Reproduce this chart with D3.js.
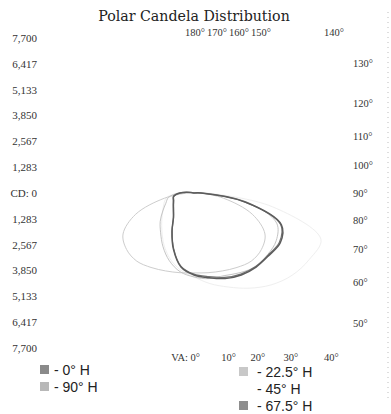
<!DOCTYPE html>
<html>
<head>
<meta charset="utf-8">
<script src="https://cdn.jsdelivr.net/npm/d3@7"></script>
<style>
  html, body { margin: 0; padding: 0; background: #fff; }
  svg { display: block; }
</style>
</head>
<body>
<svg id="chart" width="391" height="414"></svg>
<script>
// ---------------- data ----------------
const chartTitle = "Polar Candela Distribution";
const cdMax = 7700;
const cdTickValues = [7700, 6417, 5133, 3850, 2567, 1283, 0, -1283, -2567, -3850, -5133, -6417, -7700];
const cdTickLabels = ["7,700", "6,417", "5,133", "3,850", "2,567", "1,283", "CD: 0", "1,283", "2,567", "3,850", "5,133", "6,417", "7,700"];

const vaTopLabels = [180, 170, 160, 150, 140];
const vaRightLabels = [130, 120, 110, 100, 90, 80, 70, 60, 50];
const vaBottomLabels = [0, 10, 20, 30, 40];

// vertical angles of the measured candela values
const vaAngles = [0, 10, 20, 30, 40, 50, 60, 70, 80, 90, 100, 110, 120, 130, 140, 150, 160, 170, 180];

// candela per vertical angle: right half-plane and left half-plane
const h0Right   = [4070, 4270, 4520, 4700, 4800, 4840, 4950, 4620, 2580, 350, 0, 0, 0, 0, 0, 0, 0, 0, 0];
const h0Left    = [4070, 3730, 2980, 2190, 1590, 1340, 1190, 1090, 1040, 700, 150, 0, 0, 0, 0, 0, 0, 0, 0];
const h225Right = [4170, 4320, 4370, 4570, 4770, 4770, 4720, 4370, 2730, 500, 0, 0, 0, 0, 0, 0, 0, 0, 0];
const h225Left  = [4170, 3970, 3580, 3080, 2580, 2190, 1790, 1490, 1290, 750, 200, 0, 0, 0, 0, 0, 0, 0, 0];
const h45Right  = [4170, 4570, 4970, 5460, 5960, 6360, 6610, 6710, 3970, 600, 0, 0, 0, 0, 0, 0, 0, 0, 0];
const h45Left   = [4170, 3880, 3480, 2980, 2480, 2090, 1790, 1590, 1390, 790, 0, 0, 0, 0, 0, 0, 0, 0, 0];
const h675Right = [4030, 4220, 4460, 4650, 4760, 4800, 4900, 4580, 2560, 350, 0, 0, 0, 0, 0, 0, 0, 0, 0];
const h675Left  = [4030, 3700, 2950, 2170, 1580, 1320, 1170, 1070, 1020, 690, 150, 0, 0, 0, 0, 0, 0, 0, 0];
const h90Right  = [3970, 4020, 4120, 4270, 4420, 4370, 4070, 3080, 1490, 300, 0, 0, 0, 0, 0, 0, 0, 0, 0];
const h90Left   = [3970, 4020, 4120, 4270, 4420, 4370, 4070, 3080, 1490, 300, 0, 0, 0, 0, 0, 0, 0, 0, 0];

const seriesNames = ["0° H", "22.5° H", "45° H", "67.5° H", "90° H"];
const seriesColors = ["#5c5c5c", "#c4c4c4", "#efefef", "#747474", "#cdcdcd"];

// ---------------- layout ----------------
const svg = d3.select("#chart");
const cx = 194, cy = 193, R = 155;

svg.append("rect").attr("width", 391).attr("height", 414).attr("fill", "#fff");

const rScale = d3.scaleLinear().domain([0, cdMax]).range([0, R]);
const yScale = d3.scaleLinear().domain([-cdMax, cdMax]).range([cy + R, cy - R]);

const titleFont = "'DejaVu Serif', serif";
const labelFont = "'Liberation Serif', 'Times New Roman', serif";
const sansFont = "'Liberation Sans', Arial, sans-serif";

// right edge dotted line
svg.append("line")
  .attr("x1", 388).attr("x2", 388).attr("y1", 12).attr("y2", 402)
  .attr("stroke", "#bdbdbd").attr("stroke-width", 1).attr("stroke-dasharray", "1,4");

// title
svg.append("text")
  .attr("x", cx).attr("y", 21)
  .attr("text-anchor", "middle")
  .attr("font-family", titleFont).attr("font-size", 14.2)
  .attr("fill", "#222")
  .text(chartTitle);

// left candela axis
svg.append("g").selectAll("text")
  .data(cdTickValues)
  .join("text")
  .attr("x", cx - R - 2)
  .attr("y", d => yScale(d))
  .attr("dy", "0.35em")
  .attr("text-anchor", "end")
  .attr("font-family", labelFont).attr("font-size", 11)
  .attr("fill", "#333")
  .text((d, i) => cdTickLabels[i]);

// angle labels where rays meet the square frame
const toRad = a => a * Math.PI / 180;
// top labels (packed next to each other near 180°)
svg.append("g").selectAll("text")
  .data(vaTopLabels)
  .join("text")
  .attr("x", d => d >= 150 ? cx - 9 + (180 - d) * 2.2 : cx - R * Math.tan(toRad(d)))
  .attr("y", cy - R - 2)
  .attr("font-family", labelFont).attr("font-size", 10.5)
  .attr("fill", "#333")
  .text(d => d + "°");

svg.append("g").selectAll("text")
  .data(vaRightLabels)
  .join("text")
  .attr("x", cx + R + 4)
  .attr("y", d => cy + R / Math.tan(toRad(d)))
  .attr("dy", "0.35em")
  .attr("font-family", labelFont).attr("font-size", 10.5)
  .attr("fill", "#333")
  .text(d => d + "°");

svg.append("g").selectAll("text")
  .data(vaBottomLabels)
  .join("text")
  .attr("x", d => d === 0 ? cx + 6 : cx + R * Math.tan(toRad(d)))
  .attr("y", cy + R + 13)
  .attr("text-anchor", d => d === 0 ? "end" : "start")
  .attr("font-family", labelFont).attr("font-size", 10.5)
  .attr("fill", "#333")
  .text(d => d === 0 ? "VA: 0°" : d + "°");

// ---------------- curves ----------------
const seriesData = [
  { name: seriesNames[2], color: seriesColors[2], right: h45Right, left: h45Left, width: 1 },
  { name: seriesNames[4], color: seriesColors[4], right: h90Right, left: h90Left, width: 1 },
  { name: seriesNames[1], color: seriesColors[1], right: h225Right, left: h225Left, width: 1 },
  { name: seriesNames[3], color: seriesColors[3], right: h675Right, left: h675Left, width: 1.2 },
  { name: seriesNames[0], color: seriesColors[0], right: h0Right, left: h0Left, width: 1.5 }
];

function polarPoints(s) {
  const pts = [];
  vaAngles.forEach((va, i) => pts.push({ a: Math.PI - toRad(va), r: rScale(s.right[i]) }));
  for (let i = vaAngles.length - 2; i >= 1; i--) {
    pts.push({ a: Math.PI + toRad(vaAngles[i]), r: rScale(s.left[i]) });
  }
  return pts;
}

const radial = d3.lineRadial()
  .angle(d => d.a)
  .radius(d => d.r)
  .curve(d3.curveCatmullRomClosed.alpha(0.5));

const plot = svg.append("g").attr("transform", `translate(${cx},${cy})`);
plot.selectAll("path")
  .data(seriesData)
  .join("path")
  .attr("d", d => radial(polarPoints(d)))
  .attr("fill", "none")
  .attr("stroke", d => d.color)
  .attr("stroke-width", d => d.width)
  .attr("stroke-linejoin", "round");

// ---------------- legend ----------------
const legendItems = [
  { name: seriesNames[0], color: seriesColors[0], col: 0, row: 0 },
  { name: seriesNames[4], color: seriesColors[4], col: 0, row: 1 },
  { name: seriesNames[1], color: seriesColors[1], col: 1, row: 0 },
  { name: seriesNames[2], color: seriesColors[2], col: 1, row: 1 },
  { name: seriesNames[3], color: seriesColors[3], col: 1, row: 2 }
];
const legendSwatchColors = ["#8a8a8a", "#b8b8b8", "#c8c8c8", "#ffffff", "#8e8e8e"];
const legendColX = [40, 239];
const legendColY = [370, 372];
const legendRowH = 17;

const lg = svg.append("g").selectAll("g")
  .data(legendItems)
  .join("g")
  .attr("transform", d => `translate(${legendColX[d.col]},${legendColY[d.col] + d.row * legendRowH})`);
lg.append("rect")
  .attr("x", 0).attr("y", -5).attr("width", 9).attr("height", 9)
  .attr("fill", (d, i) => legendSwatchColors[i]);
lg.append("text")
  .attr("x", d => d.col === 0 ? 14 : 18).attr("y", 0)
  .attr("dy", "0.35em")
  .attr("font-family", sansFont).attr("font-size", 14)
  .attr("fill", "#222")
  .text(d => "- " + d.name);
</script>
</body>
</html>
